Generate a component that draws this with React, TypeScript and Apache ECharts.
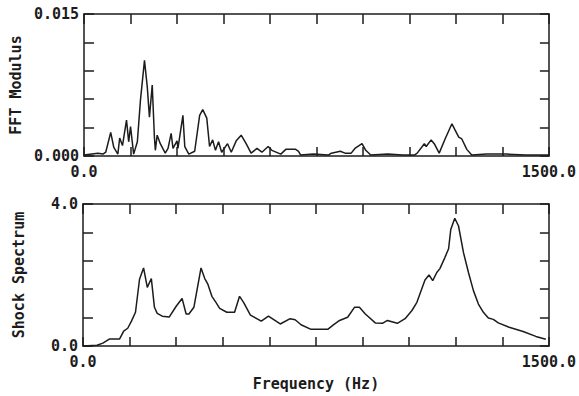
import React, { useEffect, useRef } from "react";
import * as echarts from "echarts";

const freqTop = [0, 45, 61, 70, 86, 96, 109, 115, 124, 137, 144, 150, 160, 172, 182, 195, 204, 211, 220, 227, 230, 236, 246, 262, 271, 281, 287, 300, 303, 319, 325, 338, 357, 373, 383, 396, 405, 415, 424, 434, 444, 463, 475, 491, 507, 523, 539, 558, 574, 594, 606, 635, 651, 683, 692, 699, 740, 788, 798, 827, 842, 862, 874, 897, 909, 925, 980, 1028, 1066, 1075, 1098, 1104, 1120, 1130, 1146, 1165, 1187, 1209, 1219, 1235, 1251, 1299, 1363, 1426, 1500];
const fftModulus = [0.0001, 0.0003, 0.0002, 0.0004, 0.0025, 0.0009, 0.0002, 0.0019, 0.0011, 0.0038, 0.0015, 0.0031, 0.0002, 0.0015, 0.0059, 0.0101, 0.0073, 0.0041, 0.0075, 0.002, 0.0006, 0.0022, 0.0013, 0.0003, 0.0008, 0.0024, 0.0008, 0.0016, 0.0008, 0.0043, 0.001, 0.0002, 0.0005, 0.0043, 0.0049, 0.004, 0.001, 0.0017, 0.0006, 0.0015, 0.0004, 0.0013, 0.0004, 0.0016, 0.0022, 0.0013, 0.0003, 0.0008, 0.0004, 0.001, 0.0006, 0.0002, 0.0007, 0.0007, 0.0005, 0.0001, 0.0002, 0.0001, 0.0003, 0.0005, 0.0003, 0.0003, 0.0008, 0.0013, 0.0006, 0.0001, 0.0002, 0.0001, 0.0001, 0.0003, 0.0013, 0.001, 0.0017, 0.0013, 0.0003, 0.0018, 0.0034, 0.002, 0.0018, 0.0007, 0.0001, 0.0002, 0.0002, 0.0001, 0.0001];

const freqBottom = [0, 45, 64, 86, 118, 131, 144, 156, 169, 182, 195, 207, 220, 230, 239, 255, 278, 300, 319, 332, 341, 357, 380, 392, 402, 415, 428, 440, 463, 488, 504, 517, 539, 574, 597, 635, 667, 683, 702, 734, 788, 804, 826, 852, 874, 890, 909, 941, 964, 980, 1012, 1037, 1059, 1075, 1101, 1114, 1126, 1139, 1149, 1165, 1177, 1184, 1197, 1209, 1225, 1241, 1257, 1273, 1289, 1305, 1321, 1337, 1372, 1417, 1458, 1490];
const shockSpectrum = [0, 0.02, 0.08, 0.2, 0.2, 0.42, 0.5, 0.7, 0.95, 1.88, 2.2, 1.65, 1.9, 1.09, 0.92, 0.84, 0.82, 1.12, 1.34, 0.9, 0.9, 1.09, 2.2, 1.9, 1.74, 1.4, 1.23, 1.06, 0.95, 0.95, 1.4, 1.23, 0.87, 0.7, 0.84, 0.62, 0.77, 0.74, 0.6, 0.47, 0.47, 0.58, 0.72, 0.81, 1.09, 1.09, 0.9, 0.65, 0.64, 0.72, 0.64, 0.77, 1.0, 1.23, 1.86, 2.0, 1.84, 2.07, 2.18, 2.49, 2.74, 3.28, 3.6, 3.38, 2.63, 2.07, 1.56, 1.18, 0.95, 0.79, 0.75, 0.65, 0.53, 0.41, 0.27, 0.19];

const xRange = { min: 0, max: 1500, interval: 150 };
const topRange = { min: 0, max: 0.015, interval: 0.003 };
const bottomRange = { min: 0, max: 4.0, interval: 0.8 };

const FONT = "DejaVu Sans Mono";
const INK = "#1c1c1c";

export default function App() {
  const ref = useRef<HTMLDivElement>(null);
  useEffect(() => {
    if (!ref.current) return;
    const chart = echarts.init(ref.current, null, { renderer: "svg" });
    const labelStyle = { fontFamily: FONT, fontWeight: "bold" as const, fontSize: 15, color: INK };
    const axisLine = { show: true, onZero: false, lineStyle: { color: INK, width: 1.5 } };
    const tick = (len: number) => ({ show: true, inside: true, length: len, lineStyle: { color: INK, width: 1.5 } });
    const mkX = (grid: number, name: string) => ({
      type: "value",
      gridIndex: grid,
      ...xRange,
      position: "bottom",
      axisLine,
      axisTick: tick(9),
      splitLine: { show: false },
      axisLabel: {
        ...labelStyle,
        margin: 8,
        formatter: (v: number) => (v === 0 || v === 1500 ? v.toFixed(1) : ""),
      },
      name,
      nameLocation: "middle",
      nameGap: 30,
      nameTextStyle: { ...labelStyle },
    });
    const mkXTop = (grid: number) => ({
      type: "value",
      gridIndex: grid,
      ...xRange,
      position: "top",
      axisLine,
      axisTick: tick(10),
      splitLine: { show: false },
      axisLabel: { show: false },
    });
    const mkY = (grid: number, range: any, decimals: number, name: string) => ({
      type: "value",
      gridIndex: grid,
      ...range,
      position: "left",
      axisLine,
      axisTick: tick(10),
      splitLine: { show: false },
      axisLabel: {
        ...labelStyle,
        margin: 5,
        formatter: (v: number) =>
          Math.abs(v - range.min) < 1e-9 || Math.abs(v - range.max) < 1e-9 ? v.toFixed(decimals) : "",
      },
      name,
      nameLocation: "middle",
      nameGap: 57,
      nameTextStyle: { ...labelStyle },
    });
    const mkYRight = (grid: number, range: any) => ({
      type: "value",
      gridIndex: grid,
      ...range,
      position: "right",
      axisLine,
      axisTick: tick(9),
      splitLine: { show: false },
      axisLabel: { show: false },
    });
    chart.setOption({
      animation: false,
      backgroundColor: "#fff",
      grid: [
        { left: 83, right: 26, top: 14, height: 142 },
        { left: 83, right: 26, top: 204, height: 142 },
      ],
      xAxis: [mkX(0, ""), mkX(1, "Frequency (Hz)"), mkXTop(0), mkXTop(1)],
      yAxis: [
        mkY(0, topRange, 3, "FFT Modulus"),
        mkY(1, bottomRange, 1, "Shock Spectrum"),
        mkYRight(0, topRange),
        mkYRight(1, bottomRange),
      ],
      series: [
        {
          type: "line",
          xAxisIndex: 0,
          yAxisIndex: 0,
          data: freqTop.map((f, i) => [f, fftModulus[i]]),
          showSymbol: false,
          lineStyle: { color: INK, width: 1.5 },
        },
        {
          type: "line",
          xAxisIndex: 1,
          yAxisIndex: 1,
          data: freqBottom.map((f, i) => [f, shockSpectrum[i]]),
          showSymbol: false,
          lineStyle: { color: INK, width: 1.5 },
        },
      ],
    });
    return () => chart.dispose();
  }, []);
  return <div ref={ref} style={{ position: "absolute", left: 0, top: 0, width: 579, height: 396 }} />;
}
